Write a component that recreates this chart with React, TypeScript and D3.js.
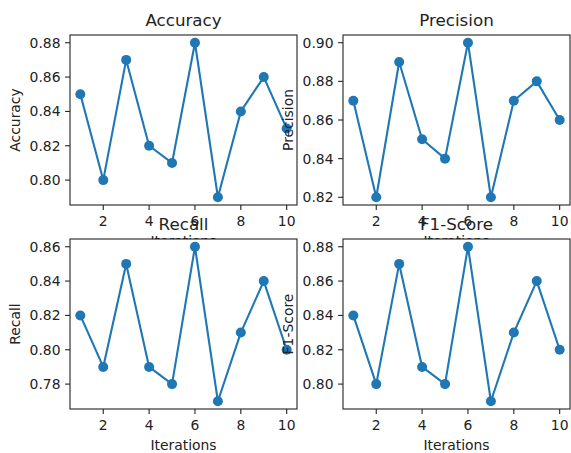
import React, { useRef, useEffect } from "react";
import * as d3 from "d3";

// iterations 1..10, one value per iteration
const iterations = [1, 2, 3, 4, 5, 6, 7, 8, 9, 10];
const accuracy = [0.85, 0.8, 0.87, 0.82, 0.81, 0.88, 0.79, 0.84, 0.86, 0.83];
const precision = [0.87, 0.82, 0.89, 0.85, 0.84, 0.9, 0.82, 0.87, 0.88, 0.86];
const recall = [0.82, 0.79, 0.85, 0.79, 0.78, 0.86, 0.77, 0.81, 0.84, 0.8];
const f1Score = [0.84, 0.8, 0.87, 0.81, 0.8, 0.88, 0.79, 0.83, 0.86, 0.82];

const xTicks = [2, 4, 6, 8, 10];
const accuracyTicks = [0.8, 0.82, 0.84, 0.86, 0.88];
const precisionTicks = [0.82, 0.84, 0.86, 0.88, 0.9];
const recallTicks = [0.78, 0.8, 0.82, 0.84, 0.86];
const f1Ticks = [0.8, 0.82, 0.84, 0.86, 0.88];

const WIDTH = 571;
const HEIGHT = 453;
const PW = 227;
const PH = 170;
const FONT = "'DejaVu Sans', sans-serif";
const BLUE = "#1f77b4";
const INK = "#222";

const panels = [
  { title: "Accuracy", values: accuracy, ticks: accuracyTicks, left: 70, top: 35 },
  { title: "Precision", values: precision, ticks: precisionTicks, left: 343, top: 35 },
  { title: "Recall", values: recall, ticks: recallTicks, left: 70, top: 239 },
  { title: "F1-Score", values: f1Score, ticks: f1Ticks, left: 343, top: 239 },
];

export default function App() {
  const ref = useRef(null);

  useEffect(() => {
    const svg = d3.select(ref.current);
    svg.selectAll("*").remove();

    svg.append("rect").attr("width", WIDTH).attr("height", HEIGHT).attr("fill", "#fff");

    panels.forEach((p) => {
      const g = svg.append("g").attr("transform", `translate(${p.left},${p.top})`);

      // matplotlib style 5% margins
      const [x0, x1] = d3.extent(iterations);
      const xPad = (x1 - x0) * 0.05;
      const x = d3.scaleLinear().domain([x0 - xPad, x1 + xPad]).range([0, PW]);
      const [lo, hi] = d3.extent(p.values);
      const yPad = (hi - lo) * 0.05;
      const y = d3.scaleLinear().domain([lo - yPad, hi + yPad]).range([PH, 0]);

      // axes background covers whatever the earlier panels spilled here
      g.append("rect").attr("width", PW).attr("height", PH).attr("fill", "#fff");

      // y ticks
      const yt = g.append("g");
      yt.selectAll("line")
        .data(p.ticks)
        .join("line")
        .attr("x1", -4.9)
        .attr("x2", 0)
        .attr("y1", (d) => y(d))
        .attr("y2", (d) => y(d))
        .attr("stroke", INK)
        .attr("stroke-width", 1.1);
      yt.selectAll("text")
        .data(p.ticks)
        .join("text")
        .attr("x", -9.5)
        .attr("y", (d) => y(d))
        .attr("dy", "0.36em")
        .attr("text-anchor", "end")
        .attr("font-family", FONT)
        .attr("font-size", 13.9)
        .attr("fill", INK)
        .text(d3.format(".2f"));

      // x ticks
      const xt = g.append("g").attr("transform", `translate(0,${PH})`);
      xt.selectAll("line")
        .data(xTicks)
        .join("line")
        .attr("x1", (d) => x(d))
        .attr("x2", (d) => x(d))
        .attr("y1", 0)
        .attr("y2", 4.9)
        .attr("stroke", INK)
        .attr("stroke-width", 1.1);
      xt.selectAll("text")
        .data(xTicks)
        .join("text")
        .attr("x", (d) => x(d))
        .attr("y", 21)
        .attr("text-anchor", "middle")
        .attr("font-family", FONT)
        .attr("font-size", 13.9)
        .attr("fill", INK)
        .text((d) => d);

      // axis labels
      g.append("text")
        .attr("x", PW / 2)
        .attr("y", PH + 41)
        .attr("text-anchor", "middle")
        .attr("font-family", FONT)
        .attr("font-size", 13.9)
        .attr("fill", INK)
        .text("Iterations");
      g.append("text")
        .attr("transform", `translate(-50.5,${PH / 2}) rotate(-90)`)
        .attr("text-anchor", "middle")
        .attr("font-family", FONT)
        .attr("font-size", 13.9)
        .attr("fill", INK)
        .text(p.title);

      // line + markers
      const line = d3
        .line()
        .x((d, i) => x(iterations[i]))
        .y((d) => y(d));
      g.append("path")
        .datum(p.values)
        .attr("d", line)
        .attr("fill", "none")
        .attr("stroke", BLUE)
        .attr("stroke-width", 2.1)
        .attr("stroke-linejoin", "round");
      g.append("g")
        .selectAll("circle")
        .data(p.values)
        .join("circle")
        .attr("cx", (d, i) => x(iterations[i]))
        .attr("cy", (d) => y(d))
        .attr("r", 5)
        .attr("fill", BLUE);

      // spines
      g.append("rect")
        .attr("width", PW)
        .attr("height", PH)
        .attr("fill", "none")
        .attr("stroke", INK)
        .attr("stroke-width", 1.1);

      // title
      g.append("text")
        .attr("x", PW / 2)
        .attr("y", -9)
        .attr("text-anchor", "middle")
        .attr("font-family", FONT)
        .attr("font-size", 16.7)
        .attr("fill", INK)
        .text(p.title);
    });
  }, []);

  return (
    <svg
      ref={ref}
      width={WIDTH}
      height={HEIGHT}
      style={{ position: "absolute", left: 0, top: 0 }}
    ></svg>
  );
}
